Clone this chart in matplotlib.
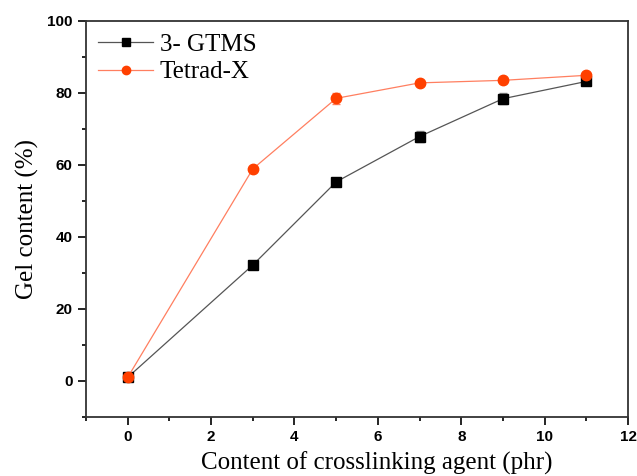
import numpy as np
import matplotlib.pyplot as plt
from matplotlib.ticker import MultipleLocator

x = [0, 3, 5, 7, 9, 11]
gtms = [1.0, 32.2, 55.3, 67.9, 78.4, 83.2]
gtms_err = [0.5, 0.6, 0.8, 1.5, 1.5, 0.8]
tetrad = [1.0, 58.9, 78.5, 82.8, 83.5, 84.9]
tetrad_err = [0.5, 0.6, 1.5, 0.6, 0.6, 0.6]

fig = plt.figure(figsize=(6.37, 4.76), dpi=100)
ax = fig.add_axes([0.135, 0.124, 0.851, 0.832])

ax.errorbar(x, gtms, yerr=gtms_err, color='#555555', lw=0.9, marker='s', ms=6.5,
            mfc='black', mec='black', ecolor='#888888', capsize=3)
ax.errorbar(x, tetrad, yerr=tetrad_err, color='#ff7f60', lw=0.9, marker='o', ms=7.5,
            mfc='#ff4000', mec='#ff4000', ecolor='#ff8060', capsize=3)
# legend handles without error bars
ax.plot([], [], color='#555555', lw=0.9, marker='s', ms=6.5, mfc='black', mec='black', label='3- GTMS')
ax.plot([], [], color='#ff7f60', lw=0.9, marker='o', ms=7.5, mfc='#ff4000', mec='#ff4000', label='Tetrad-X')

ax.set_xlim(-1, 12)
ax.set_ylim(-10, 100)
ax.xaxis.set_minor_locator(MultipleLocator(1))
ax.yaxis.set_minor_locator(MultipleLocator(10))
ax.tick_params(which='both', direction='out', top=False, right=False, width=1.2)
ax.tick_params(which='major', length=6)
ax.tick_params(which='minor', length=3)
ax.set_xticks([0, 2, 4, 6, 8, 10, 12])
ax.set_xticklabels(['0', '2', '4', '6', '8', '10', '12'], fontweight='bold', fontsize=11, family='Liberation Sans')
ax.set_yticks([0, 20, 40, 60, 80, 100])
ax.set_yticklabels(['0', '20', '40', '60', '80', '100'], fontweight='bold', fontsize=11, family='Liberation Sans')
for s in ax.spines.values():
    s.set_linewidth(1.3)
    s.set_color('#333333')

ax.set_xlabel('Content of crosslinking agent (phr)', family='Liberation Serif', fontsize=18, labelpad=5)
ax.xaxis.label.set_x(0.537)
ax.set_ylabel('Gel content (%)', family='Liberation Serif', fontsize=18, labelpad=6)

leg = ax.legend(loc='upper left', frameon=False, prop={'family': 'Liberation Serif', 'size': 18},
                handlelength=2.2, handletextpad=0.25, borderaxespad=0.2, borderpad=0.3,
                labelspacing=0.2, markerscale=0.8)

plt.savefig('out.png')
